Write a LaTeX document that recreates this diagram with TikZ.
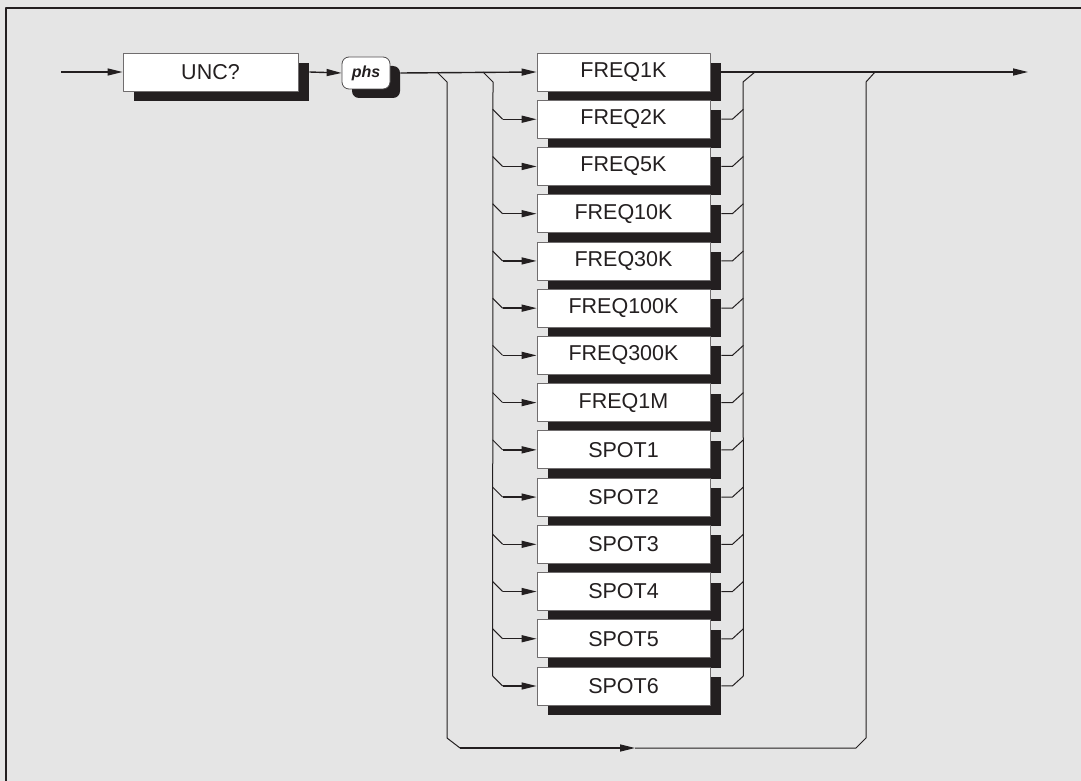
\documentclass[tikz,border=0pt]{standalone}
\usepackage{fontspec}
\newfontfamily\arialfont{Liberation Sans}
\usetikzlibrary{arrows.meta,shadows}
\definecolor{ink}{HTML}{231F20}
\definecolor{paper}{HTML}{E5E5E5}
\tikzset{
  optbox/.style={draw=ink!65, line width=.8pt, fill=white, text=ink,
    minimum width=173pt, minimum height=38pt, inner sep=0pt,
    font=\arialfont\fontsize{21.5}{24}\selectfont,
    drop shadow={shadow xshift=11pt, shadow yshift=-10pt, fill=ink, opacity=1}},
  cmdbox/.style={optbox, minimum width=175pt},
  parbox/.style={draw=ink!80, line width=.8pt, fill=white, text=ink,
    rounded corners=7pt, minimum width=48pt, minimum height=32pt, inner sep=0pt,
    font=\arialfont\bfseries\itshape\fontsize{16}{18}\selectfont,
    drop shadow={shadow xshift=10pt, shadow yshift=-9pt, fill=ink, opacity=1}},
  wire/.style={draw=ink, line width=1pt},
  arr/.style={draw=ink, line width=1.4pt, -{Triangle[length=15pt,width=7pt]}}
}
\begin{document}
\begin{tikzpicture}[x=1pt, y=-1pt, line join=round]
\fill[paper] (0,0) rectangle (1081,781);
\useasboundingbox (0,0) rectangle (1081,781);
\draw[ink, line width=1.2pt] (6,781) -- (6,8) -- (1081,8);
\path
(61,72) coordinate (in)
(1028,72) coordinate (out)
(437,72) coordinate (L0)
(447,82) coordinate (L1)
(447,738) coordinate (L2)
(460,748) coordinate (L3)
(635,748) coordinate (M)
(856,748) coordinate (R3)
(866,738) coordinate (R2)
(866,82) coordinate (R1)
(875,72) coordinate (R0)
(483,72) coordinate (B0)
(493,82) coordinate (B1)
(755,72) coordinate (C0)
(743,82) coordinate (C1);
% command and parameter
\node[cmdbox] (unc) at (210.5,72) {UNC?};
\node[parbox] (phs) at (366,73) {phs};
% options
\foreach \lab [count=\i from 0] in {FREQ1K,FREQ2K,FREQ5K,FREQ10K,FREQ30K,FREQ100K,FREQ300K,FREQ1M,SPOT1,SPOT2,SPOT3,SPOT4,SPOT5,SPOT6}
  \node[optbox] (opt\i) at (623.5,{72+47.23*\i}) {\lab};
\draw[arr] (in) -- (unc.west);
\draw[arr] ([xshift=11pt]unc.east) -- (phs.west);
\draw[arr] ([xshift=10pt]phs.east) -- (opt0.west);
\draw[arr] ([xshift=11pt]opt0.east) -- (out);
% branches
\draw[wire] (B0) -- (B1) -- ([xshift=-44pt, yshift=10pt]opt13.west);
\draw[wire] (C0) -- (C1) -- ([xshift=33pt, yshift=10pt]opt13.east);
\foreach \i in {1,...,13} {
  \draw[wire] (opt\i.west) ++(-44,-10) -- ++(10,10) coordinate (s\i);
  \draw[arr] (s\i) -- (opt\i.west);
  \draw[wire] ([xshift=11pt]opt\i.east) -- ++(11,0) -- ++(11,-10);
}
% bypass
\draw[wire] (L0) -- (L1) -- (L2) -- (L3);
\draw[arr] (L3) -- (M);
\draw[wire] (M) -- (R3) -- (R2) -- (R1) -- (R0);
\end{tikzpicture}
\end{document}
